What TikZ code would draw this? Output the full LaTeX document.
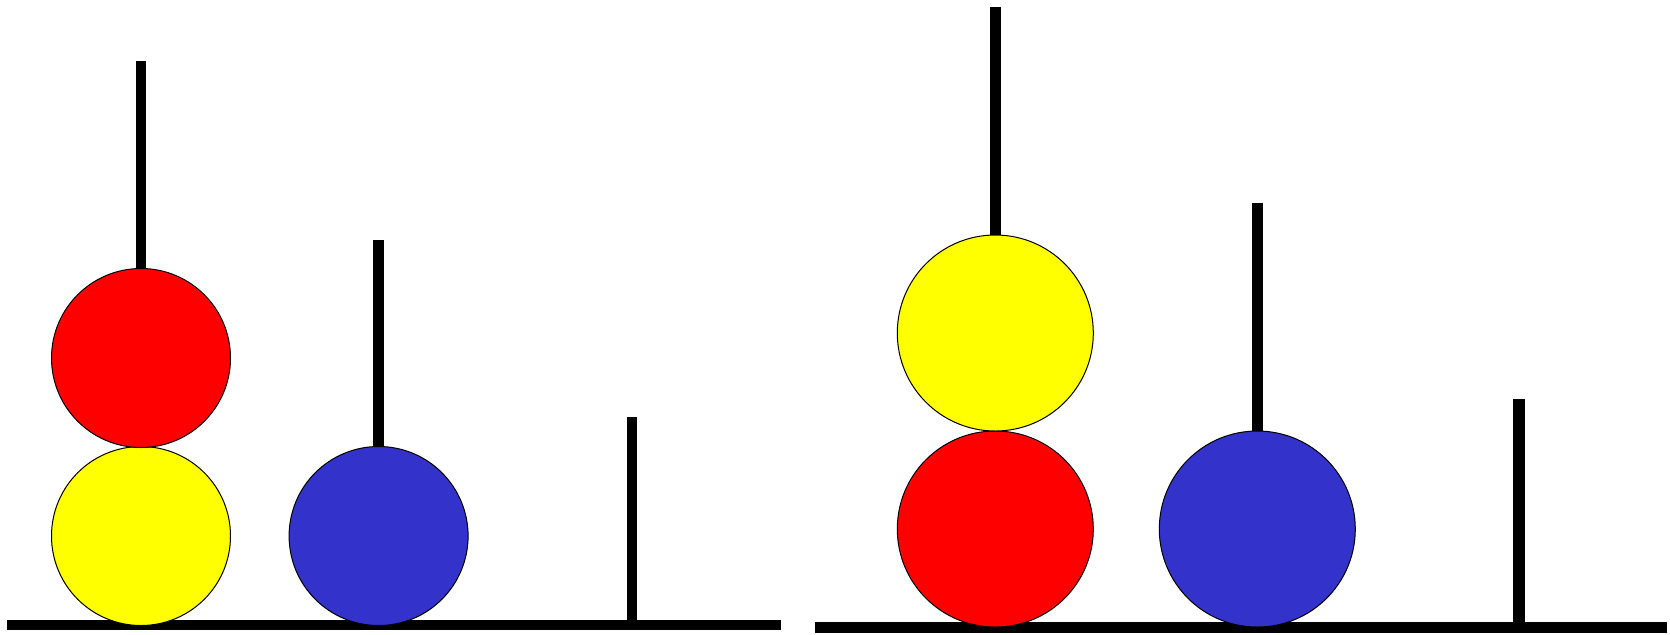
\documentclass[tikz,border=0pt]{standalone}
\usetikzlibrary{positioning}
\definecolor{diskblue}{RGB}{51,51,204}
\definecolor{diskyellow}{RGB}{255,255,0}
\definecolor{diskred}{RGB}{255,0,0}
\tikzset{
  disk/.style={circle, draw=black, line width=0.03cm, inner sep=0pt},
  smalldisk/.style={disk, minimum size=5.37cm},
  bigdisk/.style={disk, minimum size=5.88cm},
  peg/.style={line width=0.32cm},
  bigpeg/.style={line width=0.34cm}
}
\begin{document}
\begin{tikzpicture}[x=0.03cm, y=-0.03cm]
\useasboundingbox (0,0) rectangle (1670,634);

% Left tower: bases and pegs
\coordinate (lbase-w) at (7,625);
\coordinate (lbase-e) at (781,625);
\coordinate (lpeg1) at (141,61);
\coordinate (lpeg2) at (378.6,240);
\coordinate (lpeg3) at (632,417);
\draw[peg] (lpeg1) -- (lpeg1 |- lbase-w);
\draw[peg] (lpeg2) -- (lpeg2 |- lbase-w);
\draw[peg] (lpeg3) -- (lpeg3 |- lbase-w);
\draw[line width=0.3cm] (lbase-w) -- (lbase-e);

% Left tower: disks
\node[smalldisk, fill=diskyellow] (lyel) at (141,536) {};
\node[smalldisk, fill=diskred] (lred) at (141,358) {};
\node[smalldisk, fill=diskblue] (lblu) at (378.6,536) {};

% Right tower: bases and pegs
\coordinate (rbase-w) at (815,627.5);
\coordinate (rbase-e) at (1667,627.5);
\coordinate (rpeg1) at (995.3,7);
\coordinate (rpeg2) at (1257.3,203);
\coordinate (rpeg3) at (1519,399);
\draw[bigpeg] (rpeg1) -- (rpeg1 |- rbase-w);
\draw[bigpeg] (rpeg2) -- (rpeg2 |- rbase-w);
\draw[bigpeg] (rpeg3) -- (rpeg3 |- rbase-w);
\draw[line width=0.33cm] (rbase-w) -- (rbase-e);

% Right tower: disks
\node[bigdisk, fill=diskred] (rred) at (995.3,529) {};
\node[bigdisk, fill=diskyellow] (ryel) at (995.3,333) {};
\node[bigdisk, fill=diskblue] (rblu) at (1257.3,529) {};
\end{tikzpicture}
\end{document}
